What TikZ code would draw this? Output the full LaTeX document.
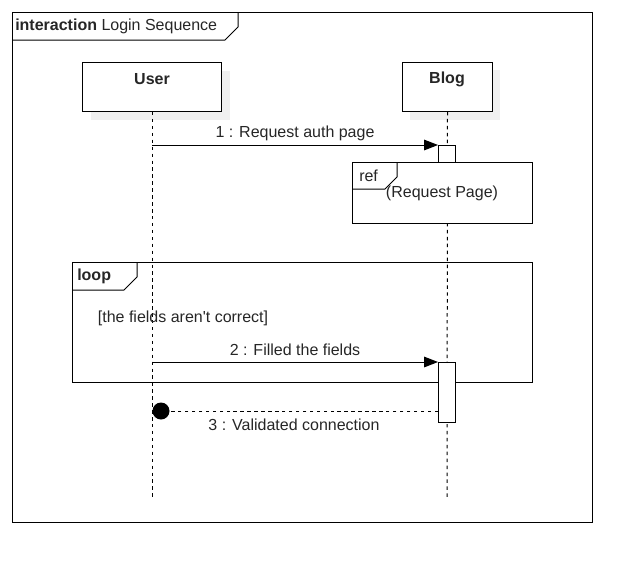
\documentclass[tikz,border=0pt]{standalone}
\usepackage{fontspec}
\setmainfont{Liberation Sans}
\usetikzlibrary{arrows.meta}
\begin{document}
\begin{tikzpicture}[x=0.75pt,y=-0.75pt,
  every node/.style={font=\fontsize{12pt}{14pt}\selectfont, text=black!85},
  frameline/.style={draw=black, line width=0.75pt},
  shadowc/.style={fill=black!6},
  headbox/.style={draw=black, fill=white, line width=0.75pt, anchor=north west, inner sep=0pt},
  lifeline/.style={draw=black, line width=0.75pt, dash pattern=on 2.6pt off 2.6pt},
  msg/.style={draw=black, line width=0.75pt, -{Triangle[length=10.5pt,width=8pt]}},
  retmsg/.style={draw=black, line width=0.75pt, dash pattern=on 2.6pt off 2.6pt},
  actbox/.style={draw=black, fill=white, line width=0.75pt, anchor=north west, inner sep=0pt, minimum width=12.75pt},
  lbl/.style={inner sep=0pt},
  bold/.style={font=\fontsize{12pt}{14pt}\selectfont\bfseries}
]
\useasboundingbox (0,0) rectangle (642,572);
% outer frame
\node[draw=black, line width=0.75pt, anchor=north west, inner sep=0pt, minimum width=435pt, minimum height=382.5pt] (frame) at (12,12) {};
\draw[frameline] (12,40) -- (225,40) -- (238,27) -- (238,12);
\node[lbl, anchor=west] (ftitle) at (15,26) {\textbf{interaction} Login Sequence};
% heads
\fill[shadowc] (91,71) rectangle (230,120);
\node[headbox, minimum width=104.25pt, minimum height=36.75pt] (user) at (82,62) {};
\node[lbl, bold] (userl) at (152,79) {User};
\fill[shadowc] (410,70) rectangle (500,120);
\node[headbox, minimum width=67.5pt, minimum height=36.75pt] (blog) at (402,62) {};
\node[lbl, bold] (blogl) at (447,79) {Blog};
% lifelines
\coordinate (userend) at (152,500);
\coordinate (blogend) at (447,500);
\draw[lifeline] (user.south) -- (userend);
\draw[lifeline] (blog.south) -- (blogend);
% activation 1
\node[actbox, minimum height=12.75pt] (act1) at (438,145) {};
% ref frame
\node[draw=black, fill=white, line width=0.75pt, anchor=north west, inner sep=0pt, minimum width=135pt, minimum height=45.75pt] (ref) at (352,162) {};
\draw[frameline] (352,189) -- (385,189) -- (397,177) -- (397,162);
\node[lbl, anchor=west] (refl) at (359,176) {ref};
\node[lbl] (refc) at (442,193) {(Request Page)};
% message 1
\coordinate (m1s) at (152,145);
\draw[msg] (m1s) -- (act1.north west);
\node[lbl] (m1l) at (295,133) {1 : Request auth page};
% loop frame
\node[draw=black, line width=0.75pt, anchor=north west, inner sep=0pt, minimum width=345pt, minimum height=90pt] (loop) at (72,262) {};
\draw[frameline] (72,290) -- (124,290) -- (137,277) -- (137,262);
\node[lbl, anchor=west, bold] (loopl) at (77,276) {loop};
\node[lbl] (guard) at (183,318) {[the fields aren\textquotesingle t correct]};
% activation 2
\node[actbox, minimum height=45pt] (act2) at (438,362) {};
% message 2
\coordinate (m2s) at (152,362);
\draw[msg] (m2s) -- (act2.north west);
\node[lbl] (m2l) at (295,350) {2 : Filled the fields};
% message 3
\node[circle, fill=black, inner sep=0pt, minimum size=12.75pt] (dot) at (161,411) {};
\coordinate (m3s) at (438,411);
\draw[retmsg] (m3s) -- (dot);
\node[lbl] (m3l) at (294,425) {3 : Validated connection};
\end{tikzpicture}
\end{document}
